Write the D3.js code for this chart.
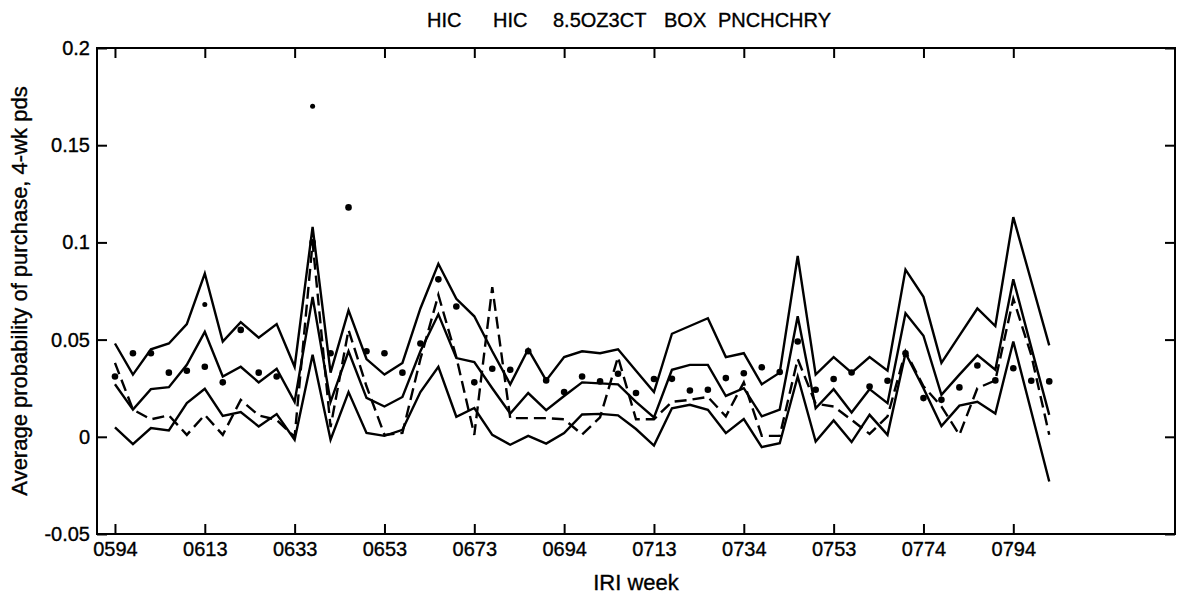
<!DOCTYPE html>
<html>
<head>
<meta charset="utf-8">
<script src="https://cdnjs.cloudflare.com/ajax/libs/d3/7.8.5/d3.min.js"></script>
<style>
    body { margin: 0; background: #fff; }
    text { font-family: Arial, 'Liberation Sans', sans-serif; fill: #000; stroke: #000; stroke-width: 0.35px; }
</style>
</head>
<body>
<script>
'use strict';

// 4-week periods, index 0 = week 0594
var weekLabels = ['0594', '0613', '0633', '0653', '0673', '0694', '0713', '0734', '0753', '0774', '0794'];
var yTicks = [-0.05, 0, 0.05, 0.1, 0.15, 0.2];
var titleWords = ['HIC', 'HIC', '8.5OZ3CT', 'BOX', 'PNCHCHRY'];

var upper = [0.048, 0.032, 0.045, 0.048, 0.058, 0.084, 0.049, 0.059, 0.051, 0.058,
    0.036, 0.108, 0.033, 0.065, 0.040, 0.032, 0.038, 0.066, 0.089, 0.071,
    0.062, 0.044, 0.027, 0.045, 0.029, 0.041, 0.044, 0.043, 0.045, 0.034,
    0.023, 0.053, 0.057, 0.061, 0.041, 0.043, 0.027, 0.033, 0.093, 0.032,
    0.041, 0.033, 0.041, 0.034, 0.086, 0.072, 0.038, 0.052, 0.066, 0.057,
    0.113, 0.080, 0.047];

var middle = [0.027, 0.014, 0.0245, 0.0255, 0.037, 0.054, 0.031, 0.036, 0.028, 0.035,
    0.018, 0.072, 0.018, 0.044, 0.020, 0.0156, 0.0205, 0.044, 0.063, 0.0405,
    0.0385, 0.025, 0.012, 0.0225, 0.0137, 0.021, 0.028, 0.0275, 0.027, 0.018,
    0.010, 0.0345, 0.037, 0.037, 0.021, 0.025, 0.0105, 0.014, 0.062, 0.0147,
    0.0245, 0.0125, 0.0245, 0.0173, 0.0636, 0.052, 0.0216, 0.032, 0.042, 0.0345,
    0.081, 0.046, 0.0113];

var lower = [0.0048, -0.0038, 0.0045, 0.0033, 0.0173, 0.0247, 0.0108, 0.0127, 0.0053, 0.0117,
    -0.0015, 0.0422, -0.0015, 0.023, 0.002, 0.0005, 0.0036, 0.023, 0.036, 0.0103,
    0.0148, 0.001, -0.0041, 0.0005, -0.0035, 0.0019, 0.0115, 0.0118, 0.011, 0.004,
    -0.0045, 0.0147, 0.0165, 0.0139, 0.0019, 0.0091, -0.0053, -0.0033, 0.031, -0.0024,
    0.0084, -0.0027, 0.0113, 0.001, 0.043, 0.025, 0.0055, 0.016, 0.018, 0.012,
    0.049, 0.013, -0.023];

var actual = [0.038, 0.014, 0.009, 0.011, 0.001, 0.0113, 0.001, 0.019, 0.011, 0.0087,
    0.000, 0.100, 0.005, 0.055, 0.026, 0.001, 0.002, 0.040, 0.073, 0.041,
    0.001, 0.077, 0.0096, 0.0096, 0.0096, 0.009, 0.0012, 0.010, 0.041, 0.009,
    0.009, 0.018, 0.019, 0.0205, 0.0105, 0.028, 0.0005, 0.0005, 0.040, 0.017,
    0.0156, 0.0087, 0.0015, 0.0105, 0.044, 0.026, 0.0156, 0.001, 0.025, 0.029,
    0.071, 0.042, 0.001];

var dots = [0.031, 0.043, 0.043, 0.033, 0.034, 0.036, 0.028, 0.055, 0.033, 0.031,
    null, 0.100, 0.043, 0.118, 0.044, 0.043, 0.033, 0.048, 0.081, 0.067,
    0.028, 0.035, 0.0345, 0.044, 0.029, 0.023, 0.031, 0.0285, 0.0324, 0.0225,
    0.0297, 0.0298, 0.0238, 0.0242, 0.0302, 0.0327, 0.0358, 0.0333, 0.049, 0.0242,
    0.0297, 0.0331, 0.0259, 0.0288, 0.043, 0.0199, 0.019, 0.0254, 0.0367, 0.029,
    0.0353, 0.0288, 0.0285];

// a second dot at a couple of periods
var extraDots = [null, null, null, null, null, 0.068, null, null, null, null,
    null, 0.170];

var width = 1179;
var height = 596;
var margin = {left: 97, right: 4, top: 48, bottom: 62};

var svg = d3.select('body').append('svg')
    .attr('width', width)
    .attr('height', height);

var x = d3.scaleLinear()
    .domain([-1, 59])
    .range([margin.left, width - margin.right]);

var y = d3.scaleLinear()
    .domain([-0.05, 0.2])
    .range([height - margin.bottom, margin.top]);

var tickIdx = weekLabels.map(function (d, i) { return i * 5; });

function styleAxis(g) {
    g.select('.domain').remove();
    g.selectAll('line').attr('stroke', '#000').attr('stroke-width', 2);
    g.selectAll('text').attr('font-size', 20).attr('font-family', 'Arial, Liberation Sans, sans-serif');
}

svg.append('g')
    .attr('transform', 'translate(0,' + y(-0.05) + ')')
    .call(d3.axisBottom(x).tickValues(tickIdx)
        .tickFormat(function (d) { return weekLabels[d / 5]; })
        .tickSize(-10).tickPadding(8))
    .call(styleAxis);

svg.append('g')
    .attr('transform', 'translate(0,' + y(0.2) + ')')
    .call(d3.axisTop(x).tickValues(tickIdx).tickFormat('').tickSize(-10))
    .call(styleAxis);

svg.append('g')
    .attr('transform', 'translate(' + x(-1) + ',0)')
    .call(d3.axisLeft(y).tickValues(yTicks)
        .tickFormat(function (d) { return d === 0 ? '0' : String(d); })
        .tickSize(-10).tickPadding(7))
    .call(styleAxis);

svg.append('g')
    .attr('transform', 'translate(' + x(59) + ',0)')
    .call(d3.axisRight(y).tickValues(yTicks).tickFormat('').tickSize(-10))
    .call(styleAxis);

svg.append('rect')
    .attr('x', x(-1))
    .attr('y', y(0.2))
    .attr('width', x(59) - x(-1))
    .attr('height', y(-0.05) - y(0.2))
    .attr('fill', 'none')
    .attr('stroke', '#000')
    .attr('stroke-width', 2);

var line = d3.line()
    .defined(function (d) { return d !== null; })
    .x(function (d, i) { return x(i); })
    .y(function (d) { return y(d); });

[upper, middle, lower].forEach(function (s) {
    svg.append('path')
        .attr('d', line(s))
        .attr('fill', 'none')
        .attr('stroke', '#000')
        .attr('stroke-width', 2.4)
        .attr('stroke-linejoin', 'miter');
});

svg.append('path')
    .attr('d', line(actual))
    .attr('fill', 'none')
    .attr('stroke', '#000')
    .attr('stroke-width', 2.4)
    .attr('stroke-dasharray', '12,6');

function drawDots(arr, r) {
    svg.append('g').selectAll('circle')
        .data(arr.map(function (v, i) { return {i: i, v: v}; })
            .filter(function (d) { return d.v !== null; }))
        .enter().append('circle')
        .attr('cx', function (d) { return x(d.i); })
        .attr('cy', function (d) { return y(d.v); })
        .attr('r', r)
        .attr('fill', '#000');
}
drawDots(dots, 3.3);
drawDots(extraDots, 2.5);

var titleX = [427, 493, 553, 664, 718];
svg.append('g').selectAll('text')
    .data(titleWords)
    .enter().append('text')
    .attr('x', function (d, i) { return titleX[i]; })
    .attr('y', 27)
    .attr('font-size', 20)
    .text(function (d) { return d; });

svg.append('text')
    .attr('x', (x(-1) + x(59)) / 2)
    .attr('y', 590)
    .attr('text-anchor', 'middle')
    .attr('font-size', 22)
    .text('IRI week');

svg.append('text')
    .attr('transform', 'translate(27,' + (y(-0.05) + y(0.2)) / 2 + ') rotate(-90)')
    .attr('text-anchor', 'middle')
    .attr('font-size', 22)
    .text('Average probability of purchase, 4-wk pds');
</script>
</body>
</html>
